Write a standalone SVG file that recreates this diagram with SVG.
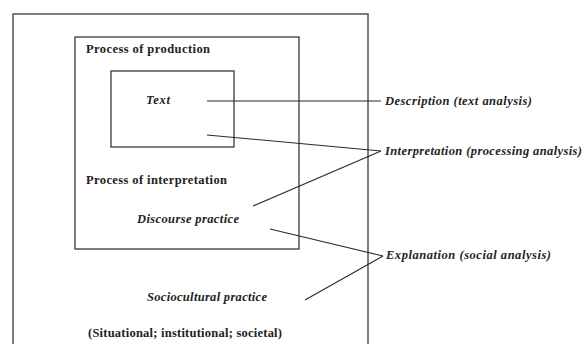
<svg xmlns="http://www.w3.org/2000/svg" width="582" height="344" viewBox="0 0 582 344">
<style>
.box{fill:none;stroke:#3a3a3a;stroke-width:1.3}
.ln{fill:none;stroke:#2a2a2a;stroke-width:1.1}
.t{font-family:"Liberation Serif","Times New Roman",serif;font-size:12.5px;font-weight:bold;fill:#222}
.i{font-style:italic}
</style>
<rect width="582" height="344" fill="#fff"/>
<g id="sociocultural">
<rect class="box" x="13" y="14" width="355" height="340"/>
<text class="t i" x="147" y="301" textLength="120">Sociocultural practice</text>
<text class="t" x="88" y="337" textLength="194">(Situational; institutional; societal)</text>
</g>
<g id="discourse">
<rect class="box" x="75" y="37" width="224" height="212"/>
<text class="t" x="86" y="53" textLength="124">Process of production</text>
<text class="t" x="86" y="184" textLength="141">Process of interpretation</text>
<text class="t i" x="137" y="223" textLength="102">Discourse practice</text>
</g>
<g id="text">
<rect class="box" x="111" y="71" width="123" height="76"/>
<text class="t i" x="146" y="104" textLength="24">Text</text>
</g>
<g id="description">
<text class="t i" x="385" y="105" textLength="147">Description (text analysis)</text>
</g>
<g id="interpretation">
<text class="t i" x="385" y="155" textLength="197">Interpretation (processing analysis)</text>
</g>
<g id="explanation">
<text class="t i" x="386" y="259" textLength="165">Explanation (social analysis)</text>
</g>
<g id="connectors">
<line class="ln" x1="207" y1="101" x2="381" y2="101"/>
<line class="ln" x1="207" y1="135" x2="381" y2="151"/>
<line class="ln" x1="253" y1="206" x2="381" y2="151"/>
<line class="ln" x1="270" y1="229" x2="383" y2="256"/>
<line class="ln" x1="305" y1="300" x2="383" y2="256"/>
</g>
</svg>
